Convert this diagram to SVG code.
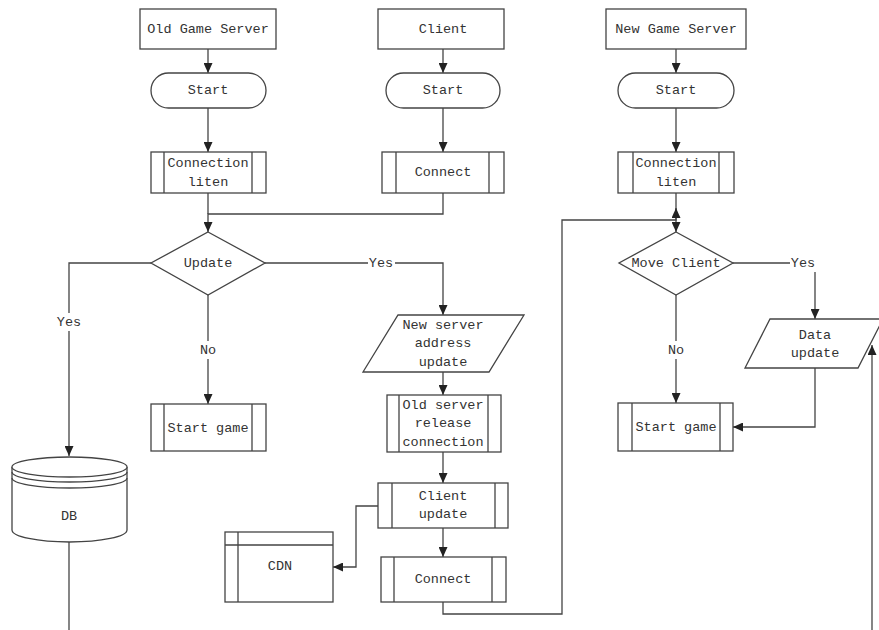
<svg xmlns="http://www.w3.org/2000/svg" width="879" height="630" viewBox="0 0 879 630">
<defs>
<marker id="arr" markerUnits="userSpaceOnUse" markerWidth="10" markerHeight="9" refX="10" refY="4.5" orient="auto">
<path d="M0,0 L10,4.5 L0,9 z" fill="#222"/>
</marker>
<style>
.s{fill:#fff;stroke:#444;stroke-width:1.3}
.l{fill:none;stroke:#444;stroke-width:1.3}
.c{fill:none;stroke:#444;stroke-width:1.3;marker-end:url(#arr)}
text{font-family:"Liberation Mono","DejaVu Sans Mono",monospace;font-size:13.5px;fill:#333;text-anchor:middle;dominant-baseline:central}
.bg{fill:#fff;stroke:none}
</style>
</defs>
<rect width="879" height="630" fill="#fff"/>

<g id="connectors">
<path class="c" d="M208,49 L208,73"/>
<path class="c" d="M208,108 L208,152"/>
<path class="l" d="M208,193 L208,214"/>
<path class="c" d="M443,193 L443,214 L208,214 L208,232"/>
<path class="c" d="M443,49 L443,73"/>
<path class="c" d="M443,108 L443,152"/>
<path class="c" d="M676,49 L676,73"/>
<path class="c" d="M676,108 L676,152"/>
<path class="c" d="M676,193 L676,232"/>
<path class="c" d="M151,263 L69,263 L69,456"/>
<path class="c" d="M208,295 L208,404"/>
<path class="c" d="M265,263 L443,263 L443,315"/>
<path class="c" d="M443,372 L443,395"/>
<path class="c" d="M443,452 L443,483"/>
<path class="c" d="M443,528 L443,557"/>
<path class="c" d="M378,506 L356,506 L356,567 L333,567"/>
<path class="c" d="M443,602 L443,614 L562,614 L562,220 L676,220 L676,208"/>
<path class="c" d="M676,295 L676,403"/>
<path class="c" d="M733,263 L815,263 L815,319"/>
<path class="c" d="M815,368 L815,427 L733,427"/>
<path class="l" d="M69,542 L69,630"/>
<path class="c" d="M872,630 L872,345"/>
<rect class="bg" x="56" y="313" width="27" height="18"/>
<text x="69" y="322">Yes</text>
<rect class="bg" x="198" y="341" width="20" height="18"/>
<text x="208" y="350">No</text>
<rect class="bg" x="368" y="254" width="27" height="18"/>
<text x="381" y="263">Yes</text>
<rect class="bg" x="666" y="341" width="20" height="18"/>
<text x="676" y="350">No</text>
<rect class="bg" x="790" y="254" width="27" height="18"/>
<text x="803" y="263">Yes</text>
</g>

<g id="old-game-server"><rect class="s" x="140" y="9" width="136" height="40"/><text x="208" y="29">Old Game Server</text></g>
<g id="old-start"><rect class="s" x="151" y="73" width="115" height="35" rx="17.5"/><text x="208" y="90">Start</text></g>
<g id="old-connection-liten"><rect class="s" x="151" y="152" width="115" height="41"/><path class="l" d="M164,152 V193 M252,152 V193"/><text x="208" y="163">Connection</text><text x="208" y="182">liten</text></g>

<g id="client"><rect class="s" x="378" y="9" width="126" height="40"/><text x="443" y="29">Client</text></g>
<g id="client-start"><rect class="s" x="386" y="73" width="114" height="35" rx="17.5"/><text x="443" y="90">Start</text></g>
<g id="client-connect"><rect class="s" x="382" y="152" width="122" height="41"/><path class="l" d="M396,152 V193 M489,152 V193"/><text x="443" y="172">Connect</text></g>

<g id="new-game-server"><rect class="s" x="606" y="9" width="140" height="40"/><text x="676" y="29">New Game Server</text></g>
<g id="new-start"><rect class="s" x="618" y="73" width="116" height="35" rx="17.5"/><text x="676" y="90">Start</text></g>
<g id="new-connection-liten"><rect class="s" x="618" y="152" width="116" height="41"/><path class="l" d="M633,152 V193 M719,152 V193"/><text x="676" y="163">Connection</text><text x="676" y="182">liten</text></g>

<g id="update"><path class="s" d="M208,232 L265,263 L208,295 L151,263 z"/><text x="208" y="263">Update</text></g>
<g id="move-client"><path class="s" d="M676,232 L733,263 L676,295 L619,263 z"/><text x="676" y="263">Move Client</text></g>

<g id="start-game-old"><rect class="s" x="151" y="404" width="115" height="47"/><path class="l" d="M164,404 V451 M252,404 V451"/><text x="208" y="428">Start game</text></g>
<g id="start-game-new"><rect class="s" x="618" y="403" width="115" height="48"/><path class="l" d="M632,403 V451 M720,403 V451"/><text x="676" y="427">Start game</text></g>

<g id="db">
<path class="s" d="M12,467 L12,530 A57.5,12 0 0 0 127,530 L127,467"/>
<ellipse class="s" cx="69.5" cy="467" rx="57.5" ry="10"/>
<path class="l" d="M12,472 A57.5,10 0 0 0 127,472 M12,478 A57.5,10 0 0 0 127,478"/>
<text x="69" y="516">DB</text>
</g>

<g id="new-server-address"><path class="s" d="M398,315 L524,315 L489,372 L363,372 z"/><text x="443" y="325">New server</text><text x="443" y="343">address</text><text x="443" y="362">update</text></g>
<g id="old-server-release"><rect class="s" x="387" y="395" width="114" height="57"/><path class="l" d="M399,395 V452 M488,395 V452"/><text x="443" y="405">Old server</text><text x="443" y="423">release</text><text x="443" y="442">connection</text></g>
<g id="client-update"><rect class="s" x="378" y="483" width="130" height="45"/><path class="l" d="M392,483 V528 M495,483 V528"/><text x="443" y="496">Client</text><text x="443" y="514">update</text></g>
<g id="connect2"><rect class="s" x="381" y="557" width="125" height="45"/><path class="l" d="M394,557 V602 M492,557 V602"/><text x="443" y="579">Connect</text></g>
<g id="cdn"><rect class="s" x="225" y="532" width="108" height="70"/><path class="l" d="M238,532 V602 M225,545 H333"/><text x="280" y="566">CDN</text></g>
<g id="data-update"><path class="s" d="M770,319 L883,319 L858,368 L745,368 z"/><text x="815" y="335">Data</text><text x="815" y="353">update</text></g>
</svg>
